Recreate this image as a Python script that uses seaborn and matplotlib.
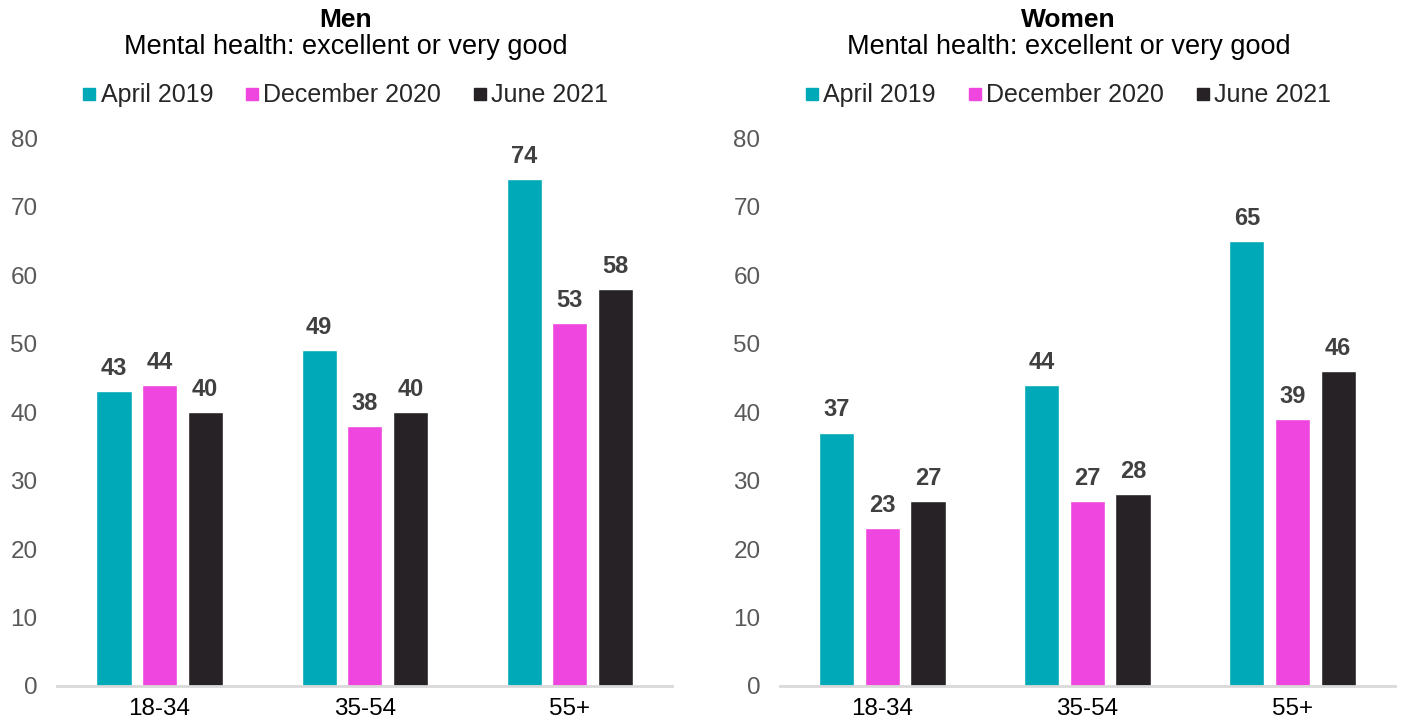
import matplotlib
matplotlib.use("Agg")
import matplotlib.pyplot as plt
import seaborn as sns
import pandas as pd

# Survey data: share reporting mental health "excellent or very good"
age_groups = ["18-34", "35-54", "55+"]
waves = ["April 2019", "December 2020", "June 2021"]
men_april_2019 = [43, 49, 74]
men_december_2020 = [44, 38, 53]
men_june_2021 = [40, 40, 58]
women_april_2019 = [37, 44, 65]
women_december_2020 = [23, 27, 39]
women_june_2021 = [27, 28, 46]
y_ticks = [0, 10, 20, 30, 40, 50, 60, 70, 80]

palette = ["#00A9B7", "#EE46DE", "#262226"]

sns.set_theme(style="white")
plt.rcParams["font.family"] = ["Liberation Sans", "DejaVu Sans"]


def build_frame(series):
    rows = []
    for wave, vals in zip(waves, series):
        for grp, v in zip(age_groups, vals):
            rows.append({"age": grp, "wave": wave, "value": v})
    return pd.DataFrame(rows)


panels = [
    ("Men", [men_april_2019, men_december_2020, men_june_2021]),
    ("Women", [women_april_2019, women_december_2020, women_june_2021]),
]

fig = plt.figure(figsize=(14.01, 7.23), dpi=100)
axes = [
    fig.add_axes([0.0407, 0.0512, 0.4393, 0.7578]),
    fig.add_axes([0.5567, 0.0512, 0.4390, 0.7578]),
]

# Header block (title, subtitle, legend) is centred slightly left of the axes
header_x = 0.469

for ax, (title, series) in zip(axes, panels):
    df = build_frame(series)
    sns.barplot(data=df, x="age", y="value", hue="wave", order=age_groups,
                hue_order=waves, palette=palette, width=0.667, gap=0.23,
                saturation=1, ax=ax, legend=False)
    for container in ax.containers:
        ax.bar_label(container, fmt="%d", padding=8, fontsize=17,
                     fontweight="bold", color="#404040")
    ax.set_ylim(0, 80)
    ax.set_xlim(-0.5, 2.5)
    ax.set_yticks(y_ticks)
    ax.set_xlabel("")
    ax.set_ylabel("")
    for side in ["top", "right", "left"]:
        ax.spines[side].set_visible(False)
    ax.spines["bottom"].set_color("#D9D9D9")
    ax.spines["bottom"].set_linewidth(2)
    ax.tick_params(axis="y", colors="#595959", labelsize=17.5, length=0, pad=14)
    ax.tick_params(axis="x", colors="#000000", labelsize=17.5, length=0, pad=9)
    for lbl in ax.get_yticklabels():
        lbl.set_color("#595959")

    # Panel title and subtitle
    ax.text(header_x, 1.215, title, transform=ax.transAxes, ha="center",
            va="center", fontsize=19, fontweight="bold", color="#000000")
    ax.text(header_x, 1.166, "Mental health: excellent or very good",
            transform=ax.transAxes, ha="center", va="center", fontsize=19.5,
            color="#000000")

    handles = [plt.Line2D([], [], marker="s", linestyle="", markersize=8,
                          color=c) for c in palette]
    ax.legend(handles, waves, loc="center", bbox_to_anchor=(header_x, 1.078),
              ncol=3, frameon=False, fontsize=18, handletextpad=0.2,
              columnspacing=1.3, handlelength=0.5, borderaxespad=0,
              borderpad=0)

fig.savefig("out.png", dpi=100)
